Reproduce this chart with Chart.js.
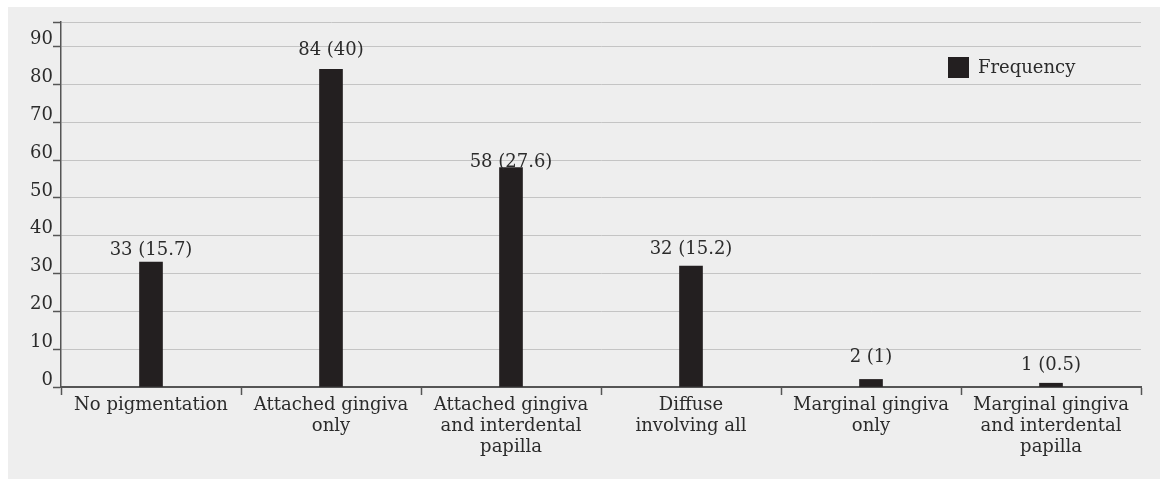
<!DOCTYPE html>
<html>
<head>
<meta charset="utf-8">
<script src="https://cdn.jsdelivr.net/npm/chart.js@4/dist/chart.umd.min.js"></script>
<style>
  html, body { margin: 0; padding: 0; background: #ffffff; }
  #wrap { width: 1160px; height: 479px; position: relative; }
</style>
</head>
<body>
<div id="wrap"><canvas id="c" width="1160" height="479"></canvas></div>
<script>
// Pigmentation site categories (x axis)
const categories = [
  ['No pigmentation'],
  ['Attached gingiva', 'only'],
  ['Attached gingiva', 'and interdental', 'papilla'],
  ['Diffuse', 'involving all'],
  ['Marginal gingiva', 'only'],
  ['Marginal gingiva', 'and interdental', 'papilla']
];
// Number of subjects and percentage in each category
const frequency = [33, 84, 58, 32, 2, 1];
const percent = ['15.7', '40', '27.6', '15.2', '1', '0.5'];
const seriesName = 'Frequency';
// Y axis tick values
const yTicks = [0, 10, 20, 30, 40, 50, 60, 70, 80, 90];
const yMax = 96.5;

// Gap in px between each bar top and its value label
const labelGap = [7, 14, 1, 12, 17, 13];

const FONT = 'DejaVu Serif';
const FONT_SIZE = 18;
const INK = '#231f20';
const TEXT = '#2b2b2b';
const AXIS = '#555555';

const panelBg = {
  id: 'panelBg',
  beforeDraw(chart) {
    const ctx = chart.ctx;
    ctx.save();
    ctx.fillStyle = '#ffffff';
    ctx.fillRect(0, 0, chart.width, chart.height);
    ctx.fillStyle = '#eeeeee';
    ctx.fillRect(8, 7, chart.width - 8, chart.height - 7);
    ctx.restore();
  }
};

const valueLabels = {
  id: 'valueLabels',
  afterDatasetsDraw(chart) {
    const ctx = chart.ctx;
    const meta = chart.getDatasetMeta(0);
    ctx.save();
    ctx.font = FONT_SIZE + 'px "' + FONT + '"';
    ctx.fillStyle = TEXT;
    ctx.textAlign = 'center';
    ctx.textBaseline = 'alphabetic';
    meta.data.forEach((bar, i) => {
      ctx.fillText(frequency[i] + ' (' + percent[i] + ')', bar.x, bar.y - labelGap[i]);
    });
    ctx.restore();
  }
};

const legendBox = {
  id: 'legendBox',
  afterDraw(chart) {
    const ctx = chart.ctx;
    ctx.save();
    ctx.fillStyle = INK;
    ctx.fillRect(948, 57, 21, 21);
    ctx.font = FONT_SIZE + 'px "' + FONT + '"';
    ctx.fillStyle = TEXT;
    ctx.textAlign = 'left';
    ctx.textBaseline = 'middle';
    ctx.fillText(chart.data.datasets[0].label, 978, 68);
    ctx.restore();
  }
};

new Chart(document.getElementById('c'), {
  type: 'bar',
  data: {
    labels: categories,
    datasets: [{
      label: seriesName,
      data: frequency,
      backgroundColor: INK,
      barThickness: 23
    }]
  },
  options: {
    responsive: false,
    animation: false,
    devicePixelRatio: 1,
    layout: { padding: { top: 22, right: 19, left: 0, bottom: 0 } },
    plugins: { legend: { display: false }, tooltip: { enabled: false } },
    scales: {
      x: {
        offset: true,
        grid: {
          offset: true,
          drawOnChartArea: false,
          drawTicks: true,
          tickLength: 8,
          tickColor: AXIS,
          tickWidth: 1.5
        },
        border: { color: AXIS, width: 2 },
        ticks: {
          color: TEXT,
          padding: 0,
          maxRotation: 0,
          autoSkip: false,
          font: { family: FONT, size: FONT_SIZE, lineHeight: 1.17 }
        },
        afterFit(scale) { scale.height = 92; }
      },
      y: {
        min: 0,
        max: yMax,
        afterBuildTicks(scale) {
          scale.ticks = yTicks.concat([yMax]).map(v => ({ value: v }));
        },
        grid: {
          color: '#c4c4c4',
          lineWidth: 1,
          tickLength: 8,
          tickColor: AXIS,
          tickWidth: 1.5
        },
        border: { color: AXIS, width: 1.5 },
        ticks: {
          color: TEXT,
          padding: 0,
          labelOffset: -7,
          font: { family: FONT, size: FONT_SIZE },
          callback: (v) => (yTicks.includes(v) ? String(v) : '')
        },
        afterFit(scale) { scale.width = 61; }
      }
    }
  },
  plugins: [panelBg, valueLabels, legendBox]
});
</script>
</body>
</html>
